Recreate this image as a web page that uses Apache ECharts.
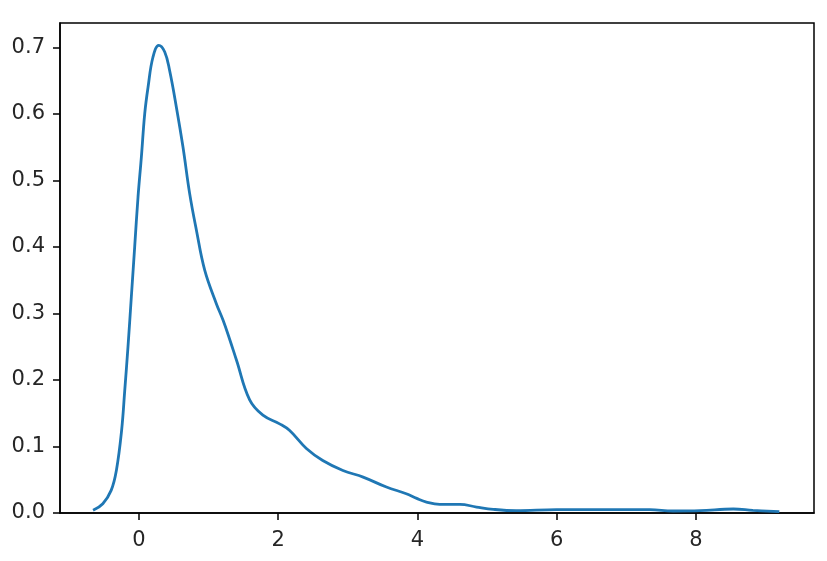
<!DOCTYPE html>
<html>
<head>
<meta charset="utf-8">
<script src="https://cdn.jsdelivr.net/npm/echarts@6/dist/echarts.min.js"></script>
<style>
html,body{margin:0;padding:0;background:#fff;}
#chart{width:827px;height:561px;}
</style>
</head>
<body>
<div id="chart"></div>
<script>
// KDE curve: x positions and density values
const xValues = [-0.66,-0.52,-0.40,-0.325,-0.25,-0.205,-0.158,-0.11,-0.062,-0.014,0.034,0.082,0.13,0.20,0.283,0.37,0.44,0.537,0.632,0.728,0.825,0.944,1.11,1.207,1.30,1.40,1.59,1.78,2.02,2.165,2.405,2.64,2.93,3.22,3.555,3.84,3.99,4.13,4.32,4.61,4.85,5.09,5.42,6.0,7.34,7.67,8.06,8.54,8.82,9.2];
const densityValues = [0.004,0.014,0.034,0.064,0.124,0.184,0.25,0.325,0.40,0.475,0.535,0.60,0.64,0.685,0.703,0.693,0.665,0.61,0.55,0.48,0.425,0.365,0.315,0.29,0.262,0.23,0.17,0.147,0.134,0.124,0.097,0.079,0.064,0.054,0.039,0.029,0.022,0.0165,0.013,0.013,0.009,0.0055,0.0035,0.005,0.005,0.003,0.0035,0.006,0.004,0.002];
const xTicks = [0,2,4,6,8];
const yTicks = [0,0.1,0.2,0.3,0.4,0.5,0.6,0.7];

const chart = echarts.init(document.getElementById('chart'));
const seriesData = xValues.map((x,i)=>[x,densityValues[i]]);
const font = 'DejaVu Sans';
chart.setOption({
  animation:false,
  grid:{left:60,top:23,right:13,bottom:48,show:true,borderColor:'#000',borderWidth:1.5,backgroundColor:'transparent'},
  xAxis:{
    type:'value',min:-1.135,max:9.698,
    splitLine:{show:false},
    axisLine:{show:true,onZero:false,lineStyle:{color:'#000',width:1.5}},
    axisTick:{show:true,inside:false,length:7,lineStyle:{color:'#000',width:1.5},customValues:xTicks},
    axisLabel:{customValues:xTicks,margin:17,fontSize:21,fontFamily:font,color:'#262626',formatter:v=>String(Math.round(v))}
  },
  yAxis:{
    type:'value',min:0,max:0.7365,
    splitLine:{show:false},
    axisLine:{show:true,onZero:false,lineStyle:{color:'#000',width:1.5}},
    axisTick:{show:true,inside:false,length:7,lineStyle:{color:'#000',width:1.5},customValues:yTicks},
    axisLabel:{customValues:yTicks,margin:15,fontSize:21,fontFamily:font,color:'#262626',formatter:v=>v.toFixed(1)}
  },
  series:[{
    type:'line',data:seriesData,smooth:0.4,showSymbol:false,
    lineStyle:{color:'#1f77b4',width:2.8},
    clip:false
  }]
});
</script>
</body>
</html>
